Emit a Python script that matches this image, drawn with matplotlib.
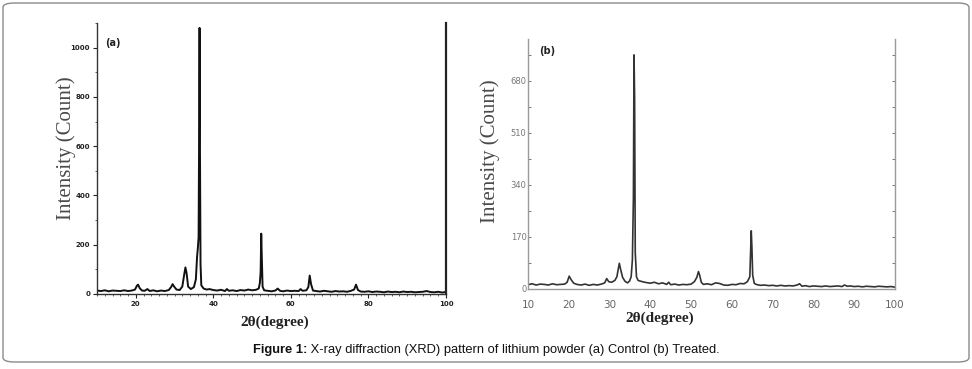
import matplotlib
matplotlib.use("Agg")
import matplotlib.pyplot as plt
from matplotlib.patches import FancyBboxPatch
from matplotlib.ticker import MultipleLocator, FixedLocator, FuncFormatter

# ---------------- data: panel (a) Control ----------------
two_theta_a = [10, 11, 12, 13, 14, 15, 16, 17, 18, 19, 19.8, 20.3, 20.6, 21.0, 21.6,
               22.3, 23.0, 23.6, 24.5, 25.5, 26.5, 27.5, 28.5, 29.1, 29.5, 29.9, 30.5,
               31.3, 32.0, 32.5, 32.8, 33.1, 33.5, 34.2, 35.0, 35.5, 35.8, 36.0, 36.2,
               36.35, 36.45, 36.55, 36.7, 36.9, 37.5, 38.3, 39.0, 40.0, 41.0, 42.0, 43.0,
               43.5, 44.0, 45.0, 46.0, 47.0, 48.0, 49.0, 50.0, 51.0, 51.7, 52.0, 52.2,
               52.35, 52.5, 52.7, 53.1, 54.0, 55.0, 56.0, 56.6, 57.2, 58.0, 59.0, 60.0,
               61.0, 62.0, 62.5, 63.0, 64.0, 64.5, 64.85, 65.2, 65.7, 66.5, 67.5, 68.5,
               69.5, 70.5, 71.5, 72.5, 73.5, 74.5, 75.5, 76.3, 76.8, 77.3, 78.0, 79.0,
               80.0, 81.0, 82.0, 83.0, 84.0, 85.0, 86.0, 87.0, 88.0, 89.0, 90.0, 91.0,
               92.0, 93.0, 94.0, 95.0, 96.0, 97.0, 98.0, 99.0, 100.0]
counts_a = [14, 12, 15, 11, 14, 13, 12, 15, 12, 14, 18, 34, 38, 24, 14,
            13, 20, 12, 15, 11, 14, 12, 16, 28, 40, 30, 18,
            16, 30, 80, 108, 85, 30, 20, 28, 60, 150, 185, 230,
            700, 1080, 600, 120, 35, 22, 18, 20, 16, 14, 17, 12,
            20, 13, 15, 12, 16, 14, 18, 15, 17, 22, 45, 90,
            245, 150, 30, 15, 13, 11, 14, 22, 13, 11, 14, 12,
            13, 12, 20, 13, 15, 28, 75, 40, 14, 12, 10, 13,
            11, 9, 12, 10, 11, 9, 13, 18, 38, 16, 10, 9,
            11, 8, 10, 9, 7, 10, 8, 9, 7, 10, 8, 9,
            7, 8, 9, 12, 8, 7, 9, 6, 8]

# ---------------- data: panel (b) Treated ----------------
two_theta_b = [10, 11, 12, 13, 14, 15, 16, 17, 18, 19, 19.6, 20.1, 20.6, 21.2, 22.0,
               23.0, 24.0, 25.0, 26.0, 27.0, 28.0, 28.8, 29.3, 29.8, 30.5, 31.3, 31.8,
               32.2, 32.4, 32.7, 33.2, 33.8, 34.4, 34.9, 35.3, 35.6, 35.85, 36.0, 36.15,
               36.3, 36.6, 37.0, 38.0, 39.0, 40.0, 41.0, 42.0, 43.0, 44.0, 44.5, 45.0,
               46.0, 47.0, 48.0, 49.0, 50.0, 50.8, 51.4, 51.8, 52.1, 52.5, 53.0, 54.0,
               55.0, 56.0, 57.0, 58.0, 59.0, 60.0, 61.0, 62.0, 63.0, 63.8, 64.4, 64.75,
               64.9, 65.1, 65.5, 66.2, 67.0, 68.0, 69.0, 70.0, 71.0, 72.0, 73.0, 74.0,
               75.0, 76.0, 76.6, 77.2, 78.0, 79.0, 80.0, 81.0, 82.0, 83.0, 84.0, 85.0,
               86.0, 87.0, 87.6, 88.3, 89.0, 90.0, 91.0, 92.0, 93.0, 94.0, 95.0, 96.0,
               97.0, 98.0, 99.0, 100.0]
counts_b = [14, 17, 13, 16, 15, 13, 17, 14, 15, 16, 22, 42, 30, 19, 15,
            13, 16, 12, 15, 13, 16, 20, 34, 24, 22, 28, 40,
            70, 84, 65, 38, 25, 20, 26, 40, 95, 300, 765, 620,
            120, 40, 28, 24, 21, 19, 22, 17, 20, 15, 22, 14,
            16, 13, 15, 14, 16, 24, 38, 57, 45, 22, 15, 17,
            14, 20, 18, 13, 12, 15, 14, 18, 17, 24, 40, 190,
            140, 45, 18, 14, 12, 13, 11, 12, 10, 12, 10, 11,
            10, 13, 17, 9, 11, 8, 10, 9, 8, 10, 8, 9,
            10, 8, 13, 9, 10, 8, 9, 7, 9, 8, 7, 9,
            8, 7, 8, 6]

ticks_a_x = [20, 40, 60, 80, 100]
ticks_a_y = [0, 200, 400, 600, 800, 1000]
ticks_b_x = [10, 20, 30, 40, 50, 60, 70, 80, 90, 100]
ticks_b_y = [0, 170, 340, 510, 680]

xlabel = "2θ(degree)"
ylabel = "Intensity (Count)"
caption_bold = "Figure 1:"
caption_rest = " X-ray diffraction (XRD) pattern of lithium powder (a) Control (b) Treated."

W, H = 972, 369
fig = plt.figure(figsize=(W / 100, H / 100), dpi=100)
fig.patch.set_facecolor("white")

def fx(px):
    return px / W

def fy(py):
    return 1 - py / H

# outer rounded border
border = FancyBboxPatch((fx(3), fy(362)), fx(969) - fx(3), fy(3) - fy(362),
                        boxstyle="round,pad=0,rounding_size=0.012",
                        transform=fig.transFigure, fill=False,
                        edgecolor="#8a8a8a", linewidth=1.0)
fig.patches.append(border)

serif = ["Liberation Serif", "DejaVu Serif"]

# ---------------- panel (a) ----------------
axa = fig.add_axes([fx(97), fy(294), fx(446) - fx(97), fy(23) - fy(294)])
axa.plot(two_theta_a, counts_a, color="#111111", linewidth=1.4)
axa.set_xlim(10, 100)
axa.set_ylim(0, 1100)
axa.spines["top"].set_visible(False)
for s in ["left", "bottom"]:
    axa.spines[s].set_color("#333333")
    axa.spines[s].set_linewidth(1.0)
axa.spines["right"].set_color("#222222")
axa.spines["right"].set_linewidth(1.6)
axa.xaxis.set_major_locator(FixedLocator(ticks_a_x))
axa.xaxis.set_minor_locator(MultipleLocator(2))
axa.yaxis.set_major_locator(FixedLocator(ticks_a_y))
axa.yaxis.set_minor_locator(MultipleLocator(100))
axa.tick_params(axis="both", which="major", direction="out", length=3, width=0.8,
                labelsize=5, colors="#222222", pad=2)
axa.tick_params(axis="both", which="minor", direction="out", length=1.5, width=0.6,
                colors="#444444")
axa.tick_params(axis="y", right=False)
for lab in axa.get_xticklabels() + axa.get_yticklabels():
    lab.set_fontweight("bold")
fig.text(fx(275), fy(322), xlabel, ha="center", va="center", fontsize=11,
         fontweight="bold", family=serif, color="#222222")
fig.text(fx(66), fy(148), ylabel, ha="center", va="center", rotation=90,
         fontsize=15, family=serif, color="#4a4a4a")
fig.text(fx(113), fy(43), "(a)", ha="center", va="center",
         fontsize=7, fontweight="bold", color="#222222")

# ---------------- panel (b) ----------------
axb = fig.add_axes([fx(528), fy(289), fx(895) - fx(528), fy(39) - fy(289)])
axb.plot(two_theta_b, counts_b, color="#333333", linewidth=1.2)
axb.set_xlim(10, 100)
axb.set_ylim(0, 817)
axb.spines["top"].set_visible(False)
for s in ["left", "bottom", "right"]:
    axb.spines[s].set_color("#9a9a9a")
    axb.spines[s].set_linewidth(1.0)
axb.xaxis.set_major_locator(FixedLocator(ticks_b_x))
axb.yaxis.set_major_locator(MultipleLocator(85))
axb.yaxis.set_major_formatter(FuncFormatter(
    lambda v, p: f"{int(round(v))}" if int(round(v)) in ticks_b_y else ""))
axb.tick_params(axis="x", direction="out", length=0, labelsize=7.5,
                colors="#666666", pad=8)
axb.tick_params(axis="y", direction="in", length=2.5, width=0.7, labelsize=6,
                colors="#777777", pad=1, right=True)
fig.text(fx(660), fy(318), xlabel, ha="center", va="center", fontsize=11,
         fontweight="bold", family=serif, color="#222222")
fig.text(fx(490), fy(151), ylabel, ha="center", va="center", rotation=90,
         fontsize=15, family=serif, color="#4a4a4a")
fig.text(fx(547), fy(51), "(b)", ha="center", va="center",
         fontsize=7, fontweight="bold", color="#222222")

# ---------------- caption (centered) ----------------
cap_font = ["Liberation Sans", "DejaVu Sans"]
cap_size = 9.3
t1 = fig.text(0, fy(350), caption_bold, ha="left", va="center", fontsize=cap_size,
              fontweight="bold", family=cap_font, color="#111111")
t2 = fig.text(0, fy(350), caption_rest, ha="left", va="center", fontsize=cap_size,
              family=cap_font, color="#111111")
fig.canvas.draw()
w1 = t1.get_window_extent().width
w2 = t2.get_window_extent().width
x0 = 486 - (w1 + w2) / 2
t1.set_x(x0 / W)
t2.set_x((x0 + w1) / W)

fig.savefig("out.png", dpi=100, facecolor="white")
